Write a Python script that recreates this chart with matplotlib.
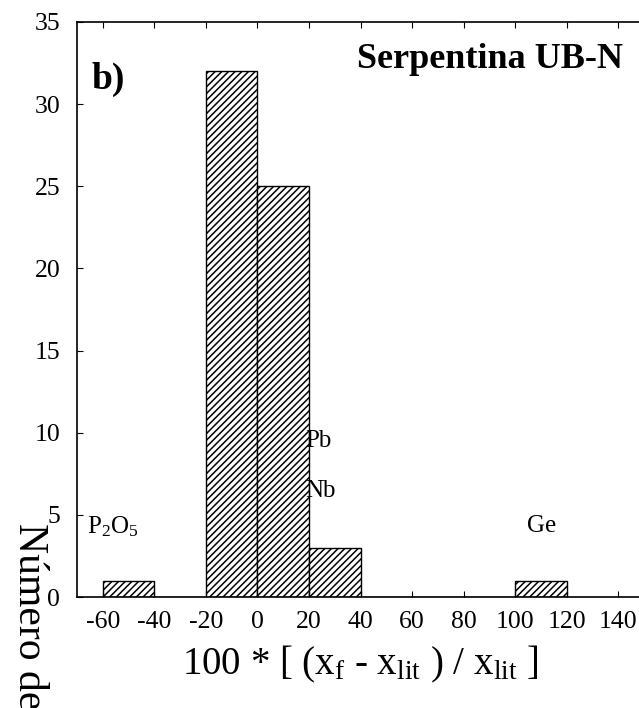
import numpy as np
import matplotlib
matplotlib.use("Agg")
import matplotlib.pyplot as plt

# histogram of relative deviations (bins of 20 %)
bin_left = [-60, -40, -20, 0, 20, 40, 60, 80, 100]
counts = [1, 0, 32, 25, 3, 0, 0, 0, 1]
bin_width = 20

x_ticks = [-60, -40, -20, 0, 20, 40, 60, 80, 100, 120, 140]
y_ticks = [0, 5, 10, 15, 20, 25, 30, 35]

# element labels next to the bars
labels = ["P$_2$O$_5$", "Pb", "Nb", "Ge"]
label_x = [-66, 18.5, 18.5, 104.5]
label_y = [4.25, 9.5, 6.45, 4.3]

plt.rcParams["font.family"] = ["Liberation Serif", "DejaVu Serif"]
plt.rcParams["mathtext.fontset"] = "custom"
plt.rcParams["mathtext.rm"] = "Liberation Serif"
plt.rcParams["mathtext.it"] = "Liberation Serif"
plt.rcParams["axes.unicode_minus"] = False
plt.rcParams["hatch.linewidth"] = 1.1
plt.rcParams["hatch.color"] = "#333333"

fig = plt.figure(figsize=(6.39, 7.08), dpi=100)
ax = fig.add_axes([77 / 639, 1 - 597 / 708, 567 / 639, 575 / 708])

ax.bar(bin_left, counts, width=bin_width, align="edge",
       facecolor="white", edgecolor="black", linewidth=1.0, hatch="/////")

ax.set_xlim(-70, 150)
ax.set_ylim(0, 35)
ax.set_xticks(x_ticks)
ax.set_yticks(y_ticks)
ax.tick_params(axis="both", direction="in", length=4, width=0.8,
               labelsize=18.5, pad=10)
ax.tick_params(axis="y", pad=12)
ax.tick_params(axis="x", top=True, labeltop=False)
ax.spines["right"].set_visible(False)
for s in ["left", "top", "bottom"]:
    ax.spines[s].set_linewidth(1.2)

for txt, xv, yv in zip(labels, label_x, label_y):
    ax.text(xv, yv, txt, fontsize=18, ha="left", va="center")

ax.text(-64.5, 31.5, "b)", fontsize=27, fontweight="bold", ha="left", va="center")
ax.text(38.5, 32.7, "Serpentina UB-N", fontsize=26, fontweight="bold",
        ha="left", va="center")

ax.set_xlabel(r"100 * [ (x$_{\mathrm{f}}$ - x$_{\mathrm{lit}}$ ) / x$_{\mathrm{lit}}$ ]",
              fontsize=28, labelpad=8)
fig.text(29 / 639, 1 - 523 / 708, "Número de", fontsize=30, rotation=-90,
         ha="center", va="top")

fig.savefig("out.png", dpi=100)
